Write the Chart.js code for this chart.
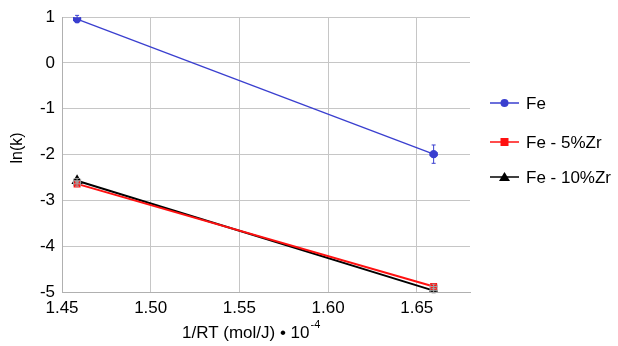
<!DOCTYPE html>
<html><head><meta charset="utf-8">
<script src="https://cdn.jsdelivr.net/npm/chart.js@4"></script>
<style>html,body{margin:0;padding:0;background:#fff}#wrap{width:618px;height:346px}</style>
</head><body><div id="wrap"><canvas id="c" width="618" height="346"></canvas></div>
<script>
const seriesNames = ["Fe", "Fe - 5%Zr", "Fe - 10%Zr"];
const xFe = [1.4585, 1.6595];
const yFe = [0.96, -1.99];
const x5 = [1.4585, 1.6595];
const y5 = [-2.64, -4.88];
const x10 = [1.4585, 1.6595];
const y10 = [-2.57, -4.97];
const yErrFe = [0.08, 0.2];
const yErr5 = [0.05, 0.05];
const yErr10 = [0.05, 0.05];
const xErr = [0.002, 0.002];
const colors = ["#3a3fcf", "#ff1010", "#000000"];
const errColors = ["#3a3fcf", "#a0a0a0", "#a0a0a0"];
const yTicks = [1, 0, -1, -2, -3, -4, -5];
const xTicks = [1.45, 1.50, 1.55, 1.60, 1.65];
const FONT = '"Liberation Sans", Arial, sans-serif';

function pts(xs, ys){ return xs.map((x,i)=>({x:x, y:ys[i]})); }
const errs = [yErrFe, yErr5, yErr10];

const errorBars = {
  id:'errorBars',
  afterDatasetsDraw(chart){
    const ctx = chart.ctx, xs = chart.scales.x, ys = chart.scales.y;
    chart.data.datasets.forEach((ds, di)=>{
      ctx.save();
      ctx.strokeStyle = errColors[di];
      ctx.lineWidth = 1;
      ds.data.forEach((p, i)=>{
        const px = xs.getPixelForValue(p.x), py = ys.getPixelForValue(p.y);
        const t = ys.getPixelForValue(p.y + errs[di][i]), b = ys.getPixelForValue(p.y - errs[di][i]);
        const l = xs.getPixelForValue(p.x - xErr[i]), r = xs.getPixelForValue(p.x + xErr[i]);
        ctx.beginPath();
        ctx.moveTo(px, t); ctx.lineTo(px, b);
        ctx.moveTo(px-2, t); ctx.lineTo(px+2, t);
        ctx.moveTo(px-2, b); ctx.lineTo(px+2, b);
        ctx.moveTo(l, py); ctx.lineTo(r, py);
        ctx.moveTo(l, py-2); ctx.lineTo(l, py+2);
        ctx.moveTo(r, py-2); ctx.lineTo(r, py+2);
        ctx.stroke();
      });
      ctx.restore();
    });
  }
};

const extras = {
  id:'extras',
  afterDraw(chart){
    const ctx = chart.ctx;
    ctx.save();
    ctx.fillStyle = '#000';
    ctx.textBaseline = 'alphabetic';
    ctx.textAlign = 'left';
    // x title with superscript
    const main = '1/RT (mol/J) \u2022 10';
    const sup = '-4';
    ctx.font = '17px ' + FONT;
    ctx.fillText(main, 182, 338);
    const w = ctx.measureText(main).width;
    ctx.font = '11px ' + FONT;
    ctx.fillText(sup, 182 + w + 1, 328);
    // y title
    ctx.save();
    ctx.translate(22, 148);
    ctx.rotate(-Math.PI/2);
    ctx.textAlign = 'center';
    ctx.font = '16px ' + FONT;
    ctx.fillText('ln(k)', 0, 0);
    ctx.restore();
    // legend
    const ly = [103, 142, 177];
    chart.data.datasets.forEach((ds, i)=>{
      const y = ly[i];
      ctx.strokeStyle = colors[i];
      ctx.lineWidth = 1.5;
      ctx.beginPath(); ctx.moveTo(490, y); ctx.lineTo(519, y); ctx.stroke();
      ctx.fillStyle = colors[i];
      const mx = 504.5;
      ctx.beginPath();
      if (i === 0) { ctx.arc(mx, y, 4, 0, Math.PI*2); }
      else if (i === 1) { ctx.rect(mx-4, y-4, 8, 8); }
      else { ctx.moveTo(mx, y-5); ctx.lineTo(mx+5.5, y+4); ctx.lineTo(mx-5.5, y+4); ctx.closePath(); }
      ctx.fill();
      ctx.fillStyle = '#000';
      ctx.font = '17px ' + FONT;
      ctx.textAlign = 'left';
      ctx.textBaseline = 'middle';
      ctx.fillText(seriesNames[i], 526, y+1);
    });
    ctx.restore();
  }
};

new Chart(document.getElementById('c'), {
  type:'scatter',
  data:{
    datasets:[
      {label:seriesNames[0], data:pts(xFe,yFe), showLine:true, borderColor:colors[0], backgroundColor:colors[0], borderWidth:1.3, pointStyle:'circle', pointRadius:3.5},
      {label:seriesNames[1], data:pts(x5,y5), showLine:true, borderColor:colors[1], backgroundColor:colors[1], borderWidth:2, pointStyle:'rect', pointRadius:3.5},
      {label:seriesNames[2], data:pts(x10,y10), showLine:true, borderColor:colors[2], backgroundColor:colors[2], borderWidth:2, pointStyle:'triangle', pointRadius:4.5}
    ]
  },
  options:{
    responsive:false, animation:false,
    layout:{padding:{top:14, right:148, left:0, bottom:0}},
    plugins:{legend:{display:false}, tooltip:{enabled:false}},
    scales:{
      x:{type:'linear', min:1.45, max:1.68,
        afterBuildTicks(s){ s.ticks = xTicks.map(v=>({value:v})); },
        afterFit(s){ s.height = 54; },
        grid:{color:'#c6c6c6', drawTicks:false},
        border:{color:'#b0b0b0'},
        ticks:{color:'#000', padding:6, font:{size:17, family:FONT}, callback:(v)=>v.toFixed(2)},
        title:{display:false}
      },
      y:{type:'linear', min:-5, max:1,
        afterBuildTicks(s){ s.ticks = yTicks.map(v=>({value:v})); },
        afterFit(s){ s.width = 62; },
        grid:{color:'#c6c6c6', drawTicks:false},
        border:{color:'#b0b0b0'},
        ticks:{color:'#000', padding:7, font:{size:17, family:FONT}, callback:(v)=>String(v)},
        title:{display:false}
      }
    }
  },
  plugins:[errorBars, extras]
});
</script>
</body></html>
